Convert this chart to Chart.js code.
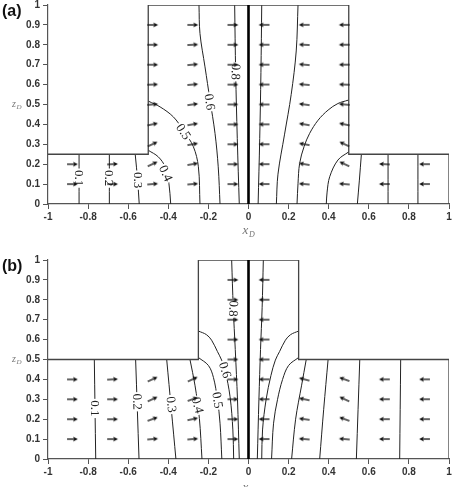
<!DOCTYPE html>
<html><head><meta charset="utf-8">
<script src="https://cdn.jsdelivr.net/npm/chart.js@4/dist/chart.umd.min.js"></script>
<style>
html,body{margin:0;padding:0;background:#fff;overflow:hidden;width:457px;height:487px;}
canvas{position:absolute;left:0;}
#ca{top:-4px;}
#cb{top:245px;}
</style></head><body>
<canvas id="ca" width="457" height="249"></canvas>
<canvas id="cb" width="457" height="242"></canvas>
<script>
// ---------- tick labels ----------
const xTickLabels = ['-1','-0.8','-0.6','-0.4','-0.2','0','0.2','0.4','0.6','0.8','1'];
const zTickLabels = ['0','0.1','0.2','0.3','0.4','0.5','0.6','0.7','0.8','0.9','1'];

// ---------- domain outlines (x, z) ----------
const domainA = [[-1,0.25],[-0.5,0.25],[-0.5,1],[0.5,1],[0.5,0.25],[1,0.25],[1,0]];
const domainB = [[-1,0.5],[-0.25,0.5],[-0.25,1],[0.25,1],[0.25,0.5],[1,0.5],[1,0]];
const centerLine = [[0,0],[0,1]];

// ---------- contour lines, panel (a) ----------
const cA1L = [[-0.845,0],[-0.845,0.25]];
const cA2L = [[-0.694,0],[-0.694,0.25]];
const cA3L = [[-0.545,0],[-0.553,0.12],[-0.565,0.25]];
const cA4L = [[-0.5,0.27],[-0.45,0.237],[-0.416,0.187],[-0.397,0.104],[-0.388,0]];
const cA5L = [[-0.5,0.517],[-0.441,0.488],[-0.375,0.438],[-0.325,0.37],[-0.275,0.288],[-0.25,0.187],[-0.242,0]];
const cA6L = [[-0.247,1],[-0.242,0.857],[-0.217,0.689],[-0.192,0.522],[-0.167,0.355],[-0.151,0.187],[-0.142,0]];
const cA8L = [[-0.069,1],[-0.064,0.66],[-0.056,0.33],[-0.046,0]];
const cA8R = [[0.066,1],[0.062,0.66],[0.056,0.33],[0.048,0]];
const cA6R = [[0.247,1],[0.238,0.769],[0.213,0.551],[0.18,0.351],[0.147,0.15],[0.139,0]];
const cA5R = [[0.498,0.522],[0.446,0.505],[0.397,0.472],[0.347,0.421],[0.305,0.355],[0.277,0.288],[0.255,0.204],[0.247,0.104],[0.242,0]];
const cA4R = [[0.5,0.262],[0.446,0.221],[0.405,0.137],[0.392,0.06],[0.388,0]];
const cA3R = [[0.563,0.25],[0.553,0.12],[0.543,0]];
const cA2R = [[0.696,0],[0.696,0.25]];
const cA1R = [[0.845,0],[0.845,0.25]];
const contoursA = [cA1L,cA2L,cA3L,cA4L,cA5L,cA6L,cA8L,cA8R,cA6R,cA5R,cA4R,cA3R,cA2R,cA1R];

// ---------- contour lines, panel (b) ----------
const cB1L = [[-0.769,0.5],[-0.762,0]];
const cB2L = [[-0.563,0.5],[-0.546,0]];
const cB3L = [[-0.408,0.5],[-0.385,0.25],[-0.362,0]];
const cB4L = [[-0.292,0.5],[-0.267,0.371],[-0.245,0.204],[-0.232,0]];
const cB5L = [[-0.25,0.51],[-0.2,0.47],[-0.175,0.41],[-0.155,0.3],[-0.142,0.18],[-0.133,0]];
const cB6L = [[-0.25,0.643],[-0.21,0.625],[-0.184,0.597],[-0.155,0.54],[-0.134,0.497],[-0.117,0.447],[-0.092,0.313],[-0.078,0.146],[-0.074,0]];
const cB8L = [[-0.084,1],[-0.076,0.76],[-0.066,0.55],[-0.055,0.3],[-0.046,0]];
const cB8R = [[0.074,1],[0.068,0.76],[0.06,0.55],[0.052,0.3],[0.044,0]];
const cB6R = [[0.25,0.643],[0.21,0.625],[0.184,0.597],[0.155,0.54],[0.134,0.497],[0.112,0.42],[0.088,0.3],[0.07,0.146],[0.066,0]];
const cB5R = [[0.25,0.51],[0.2,0.47],[0.17,0.4],[0.145,0.3],[0.125,0.18],[0.115,0]];
const cB4R = [[0.288,0.5],[0.265,0.371],[0.235,0.2],[0.215,0]];
const cB3R = [[0.397,0.5],[0.375,0.25],[0.355,0]];
const cB2R = [[0.555,0.5],[0.538,0]];
const cB1R = [[0.759,0.5],[0.754,0]];
const contoursB = [cB1L,cB2L,cB3L,cB4L,cB5L,cB6L,cB8L,cB8R,cB6R,cB5R,cB4R,cB3R,cB2R,cB1R];

// ---------- contour labels ----------
const labelTextA = ['0.1','0.2','0.3','0.4','0.5','0.6','0.8'];
const labelXA = [-0.845,-0.694,-0.553,-0.413,-0.325,-0.194,-0.064];
const labelZA = [0.13,0.13,0.12,0.154,0.363,0.513,0.664];
const labelRotA = [90,90,90,66,56,81,92];
const labelTextB = ['0.1','0.2','0.3','0.4','0.5','0.6','0.8'];
const labelXB = [-0.766,-0.555,-0.385,-0.254,-0.155,-0.117,-0.076];
const labelZB = [0.254,0.288,0.274,0.27,0.296,0.447,0.756];
const labelRotB = [90,88,83,76,80,72,92];

// ---------- velocity arrows (angle in degrees, null = none) ----------
const arrowColsA = [-0.88,-0.68,-0.48,-0.28,-0.08,0.08,0.28,0.48,0.68,0.88];
const arrowRowsA = [0.1,0.2,0.3,0.4,0.5,0.6,0.7,0.8,0.9];
const arrowAngA = [
  [0,0,5,5,0,180,175,175,180,180],
  [0,3,25,10,0,180,170,155,177,180],
  [null,null,25,10,0,180,170,155,null,null],
  [null,null,12,10,0,180,170,168,null,null],
  [null,null,5,8,0,180,172,175,null,null],
  [null,null,2,5,0,180,175,178,null,null],
  [null,null,0,5,0,180,175,180,null,null],
  [null,null,0,3,0,180,177,180,null,null],
  [null,null,0,0,0,180,180,180,null,null]
];
const arrowColsB = [-0.88,-0.68,-0.48,-0.28,-0.08,0.08,0.28,0.48,0.68,0.88];
const arrowRowsB = [0.1,0.2,0.3,0.4,0.5,0.6,0.7,0.8,0.9];
const arrowAngB = [
  [0,0,5,5,0,180,175,175,180,180],
  [0,0,20,12,0,180,172,160,180,180],
  [0,0,25,20,0,180,168,155,180,180],
  [0,3,25,25,0,180,165,160,180,180],
  [null,null,null,null,0,180,null,null,null,null],
  [null,null,null,null,0,180,null,null,null,null],
  [null,null,null,null,0,180,null,null,null,null],
  [null,null,null,null,0,180,null,null,null,null],
  [null,null,null,null,0,180,null,null,null,null]
];

// ---------- helpers ----------
function pts(arr){ return arr.map(p => ({x:p[0], y:p[1]})); }
function arrowPts(cols, rows, ang){
  const out = [];
  rows.forEach((z,r) => cols.forEach((x,c) => {
    const a = ang[r][c];
    if (a !== null) out.push({x:x, y:z, a:a});
  }));
  return out;
}
function makeArrow(){
  const c = document.createElement('canvas'); c.width = 14; c.height = 8;
  const g = c.getContext('2d');
  g.strokeStyle = '#111'; g.fillStyle = '#111'; g.lineWidth = 1.3;
  g.beginPath(); g.moveTo(2,4); g.lineTo(10,4); g.stroke();
  g.beginPath(); g.moveTo(12.8,4); g.lineTo(8,1.6); g.lineTo(9.2,4); g.lineTo(8,6.4); g.closePath(); g.fill();
  return c;
}
const arrowImg = makeArrow();

const decor = {
  id: 'decor',
  afterDatasetDraw(chart, args, o){
    if (args.index !== 1) return;
    const g = chart.ctx, xs = chart.scales.x, ys = chart.scales.y;
    g.save();
    g.font = '13px "Liberation Serif"';
    g.textAlign = 'center'; g.textBaseline = 'middle';
    o.text.forEach((t,i) => {
      const px = xs.getPixelForValue(o.lx[i]), py = ys.getPixelForValue(o.lz[i]);
      g.save(); g.translate(px,py); g.rotate(o.rot[i]*Math.PI/180);
      const w = g.measureText(t).width;
      g.fillStyle = '#fff'; g.fillRect(-w/2-1.5,-4,w+3,8);
      g.fillStyle = '#222'; g.fillText(t,0,0.5);
      g.restore();
    });
    g.restore();
  },
  afterDraw(chart, args, o){
    const g = chart.ctx, xs = chart.scales.x, ys = chart.scales.y, ca = chart.chartArea;
    g.save();
    g.fillStyle = '#111'; g.font = 'bold 16px "Liberation Sans"'; g.textBaseline = 'alphabetic'; g.textAlign='left';
    g.fillText(o.panel, 2, o.panelY);
    // z_D
    g.fillStyle = '#777';
    const zy = ys.getPixelForValue(0.5);
    g.font = 'italic 10px "Liberation Serif"'; g.fillText('z', 12, zy + 2.5);
    g.font = 'italic 7px "Liberation Serif"'; g.fillText('D', 16.5, zy + 4.5);
    // x_D
    const xx = xs.getPixelForValue(0);
    g.font = 'italic 13px "Liberation Serif"'; g.fillText('x', xx - 6, ca.bottom + o.xTitleDy);
    g.font = 'italic 8px "Liberation Serif"'; g.fillText('D', xx + 0.5, ca.bottom + o.xTitleDy + 3);
    g.restore();
  }
};

function makeChart(id, domain, contours, arrows, labels, padTop, xAxisH, panel, panelY, xTitleDy){
  const ds = [];
  ds.push({
    data: arrows, showLine:false, pointStyle: arrowImg, pointRadius: 5,
    rotation: (c) => c.raw ? -c.raw.a : 0
  });
  ds.push({ data: pts(centerLine), showLine:true, pointRadius:0, borderColor:'#000', borderWidth:2.6 });
  ds.push({ data: pts(domain), showLine:true, pointRadius:0, borderColor:'#444', borderWidth:1.3, tension:0 });
  contours.forEach(c => ds.push({ data: pts(c), showLine:true, pointRadius:0, borderColor:'#222', borderWidth:1, tension:0.35 }));
  const tickFont = { size: 10, family: '"Liberation Sans"', weight: 'bold' };
  return new Chart(document.getElementById(id), {
    type: 'scatter',
    data: { datasets: ds },
    options: {
      responsive:false, animation:false, events:[],
      layout: { padding: { top: padTop, right: 8, left: 0, bottom: 0 } },
      plugins: { legend:{display:false}, tooltip:{enabled:false},
        decor: Object.assign({panel, panelY, xTitleDy}, labels) },
      scales: {
        x: { type:'linear', min:-1, max:1,
          ticks:{ stepSize:0.2, autoSkip:false, maxRotation:0, padding:2, color:'#333', font:tickFont,
            callback:(v) => xTickLabels[Math.round((v+1)/0.2)] },
          grid:{ drawOnChartArea:false, drawTicks:true, tickLength:5, color:'#555' },
          border:{ color:'#555', width:1.2 },
          afterFit:(s) => { s.height = xAxisH; } },
        y: { type:'linear', min:0, max:1,
          ticks:{ stepSize:0.1, autoSkip:false, padding:3, color:'#333', font:tickFont,
            callback:(v) => zTickLabels[Math.round(v/0.1)] },
          grid:{ drawOnChartArea:false, drawTicks:true, tickLength:5, color:'#555' },
          border:{ color:'#555', width:1.2 },
          afterFit:(s) => { s.width = 48; } }
      }
    },
    plugins: [decor]
  });
}

makeChart('ca', domainA, contoursA, arrowPts(arrowColsA, arrowRowsA, arrowAngA),
  { text:labelTextA, lx:labelXA, lz:labelZA, rot:labelRotA }, 6, 41, '(a)', 19.5, 30);
makeChart('cb', domainB, contoursB, arrowPts(arrowColsB, arrowRowsB, arrowAngB),
  { text:labelTextB, lx:labelXB, lz:labelZB, rot:labelRotB }, 15, 28, '(b)', 25.5, 31.5);
</script>
</body></html>
